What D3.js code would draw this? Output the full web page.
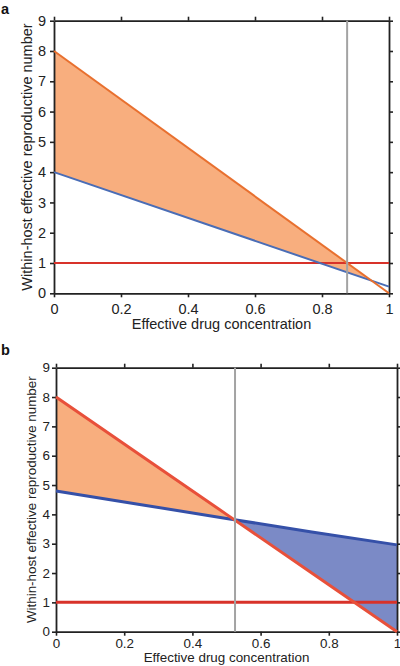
<!DOCTYPE html>
<html><head><meta charset="utf-8">
<script src="https://cdn.jsdelivr.net/npm/d3@7"></script>
<style>body{margin:0;background:#fff}svg{display:block;font-family:Arial,"Liberation Sans",sans-serif}</style>
</head><body><svg id="c" width="400" height="666"></svg>
<script>
// Panel a data
const concA = [0, 1];
const sensitiveA = [8, 0];
const resistantA = [4, 0.22];
const thresholdA = 0.875;
// Panel b data
const concB = [0, 0.25, 0.5, 0.75, 1];
const sensitiveB = [8, 6, 4, 2, 0];
const resistantB = [4.80, 4.33, 3.86, 3.40, 2.96];
const thresholdB = 0.525;
// Axes
const xTicks = [0, 0.2, 0.4, 0.6, 0.8, 1];
const xTickLabels = ["0", "0.2", "0.4", "0.6", "0.8", "1"];
const yTicks = [0, 1, 2, 3, 4, 5, 6, 7, 8, 9];
const refLevel = 1;
const xLabel = "Effective drug concentration";
const yLabel = "Within-host effective reproductive number";

const svg = d3.select("#c");

function crossing(xs, a, b) {
  for (let i = 0; i < xs.length - 1; i++) {
    const d0 = a[i] - b[i], d1 = a[i+1] - b[i+1];
    if (d0 === 0) return xs[i];
    if (d0 * d1 < 0) { const t = d0 / (d0 - d1); return xs[i] + t * (xs[i+1] - xs[i]); }
  }
  return xs[xs.length - 1];
}

function panel(o) {
  const g = svg.append("g");
  const x = d3.scaleLinear().domain([0, 1]).range([o.left, o.right]);
  const y = d3.scaleLinear().domain([0, 9]).range([o.bottom, o.top]);
  const pts = o.conc.map((c, i) => ({c, s: o.sens[i], r: o.res[i]}));
  const cx = crossing(o.conc, o.sens, o.res);
  const id = o.id;
  const defs = g.append("defs");
  defs.append("clipPath").attr("id", id + "L").append("rect")
    .attr("x", x(0)).attr("y", y(9)).attr("width", x(cx) - x(0)).attr("height", y(0) - y(9));
  defs.append("clipPath").attr("id", id + "R").append("rect")
    .attr("x", x(cx)).attr("y", y(9)).attr("width", x(1) - x(cx)).attr("height", y(0) - y(9));
  const area = d3.area().x(d => x(d.c)).y0(d => y(d.r)).y1(d => y(d.s));
  g.append("path").datum(pts).attr("d", area).attr("fill", o.fillO).attr("clip-path", `url(#${id}L)`);
  if (o.fillB) g.append("path").datum(pts).attr("d", area).attr("fill", o.fillB).attr("clip-path", `url(#${id}R)`);

  // axes box
  const axC = "#222";
  const mk = (axis, tr) => {
    const a = g.append("g").attr("transform", tr).call(axis);
    a.select(".domain").attr("stroke", axC).attr("stroke-width", 1.8);
    a.selectAll(".tick line").attr("stroke", axC).attr("stroke-width", 1.6);
    a.selectAll("text").attr("fill", "#222").style("font-size", o.fs + "px").style("font-family", "Arial, 'Liberation Sans', sans-serif");
    return a;
  };
  mk(d3.axisBottom(x).tickValues(xTicks).tickFormat((d, i) => xTickLabels[i]).tickSizeInner(4).tickSizeOuter(0).tickPadding(o.xpad), `translate(0,${o.bottom})`);
  mk(d3.axisTop(x).tickValues(xTicks).tickFormat("").tickSizeInner(4).tickSizeOuter(0), `translate(0,${o.top})`);
  mk(d3.axisLeft(y).tickValues(yTicks).tickFormat(d3.format("d")).tickSizeInner(4).tickSizeOuter(0).tickPadding(o.ypad), `translate(${o.left},0)`);
  mk(d3.axisRight(y).tickValues(yTicks).tickFormat("").tickSizeInner(4).tickSizeOuter(0), `translate(${o.right},0)`);

  // reference line at 1
  g.append("line").attr("x1", x(0)).attr("x2", x(1)).attr("y1", y(refLevel)).attr("y2", y(refLevel))
    .attr("stroke", o.redC).attr("stroke-width", o.lw);
  g.append("path").datum(pts).attr("d", d3.line().x(d => x(d.c)).y(d => y(d.r))).attr("fill", "none").attr("stroke", o.blueC).attr("stroke-width", o.lw);
  g.append("path").datum(pts).attr("d", d3.line().x(d => x(d.c)).y(d => y(d.s))).attr("fill", "none").attr("stroke", o.orC).attr("stroke-width", o.lw);
  // threshold
  g.append("line").attr("x1", x(o.thr)).attr("x2", x(o.thr)).attr("y1", y(0)).attr("y2", y(9))
    .attr("stroke", "#a3a3a3").attr("stroke-width", 2);

  g.append("text").attr("x", (o.left + o.right) / 2).attr("y", o.xlabY).attr("text-anchor", "middle")
    .attr("fill", "#222").style("font-size", o.fs + "px").text(xLabel);
  g.append("text").attr("transform", `translate(${o.ylabX},${(o.top + o.bottom) / 2}) rotate(-90)`)
    .attr("text-anchor", "middle").attr("fill", "#222").style("font-size", o.fs + "px").text(yLabel);
  g.append("text").attr("x", 1).attr("y", o.tagY).attr("fill", "#111").style("font-size", "14.5px").style("font-weight", "bold").text(o.tag);
}

panel({id: "pa", tag: "a", tagY: 13.5, left: 54, right: 389, top: 20.7, bottom: 293.3,
  conc: concA, sens: sensitiveA, res: resistantA, thr: thresholdA,
  fillO: "#f8ae7e", fillB: null, orC: "#e8702f", blueC: "#4a6db6", redC: "#d8322a", lw: 2,
  fs: 14.5, xpad: 6, ypad: 4, xlabY: 329, ylabX: 32});

panel({id: "pb", tag: "b", tagY: 355, left: 56, right: 397, top: 367.7, bottom: 631.7,
  conc: concB, sens: sensitiveB, res: resistantB, thr: thresholdB,
  fillO: "#f8ae7e", fillB: "#7b8ac6", orC: "#e8503a", blueC: "#3550a8", redC: "#d8322a", lw: 3,
  fs: 13.4, xpad: 3, ypad: 2, xlabY: 662, ylabX: 36});
</script></body></html>
